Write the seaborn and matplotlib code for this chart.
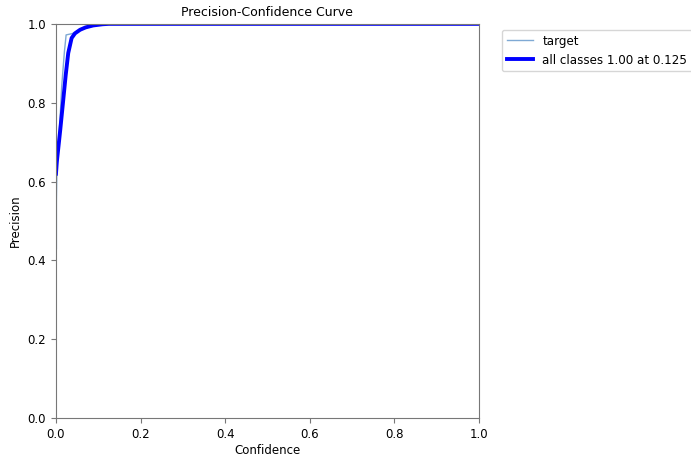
import matplotlib
matplotlib.use("Agg")
import matplotlib.pyplot as plt
import seaborn as sns

# Per-class precision vs confidence threshold
target_conf = [0.001, 0.001, 0.002, 0.005, 0.0095, 0.0135, 0.02, 0.024, 0.037, 0.045, 0.057, 0.07, 0.088, 0.11, 0.125, 0.3, 0.6, 1.0]
target_prec = [0.43, 0.55, 0.62, 0.68, 0.756, 0.841, 0.93, 0.972, 0.975, 0.978, 0.985, 0.991, 0.996, 0.999, 1.0, 1.0, 1.0, 1.0]

# Mean over all classes
all_conf = [0.0, 0.002, 0.005, 0.01, 0.017, 0.023, 0.029, 0.037, 0.045, 0.057, 0.07, 0.088, 0.11, 0.125, 0.3, 0.6, 1.0]
all_prec = [0.62, 0.65, 0.68, 0.73, 0.805, 0.87, 0.926, 0.964, 0.976, 0.985, 0.991, 0.996, 0.999, 1.0, 1.0, 1.0, 1.0]

series_labels = ["target", "all classes 1.00 at 0.125"]

plt.rcParams["font.family"] = ["DejaVu Sans"]
fig = plt.figure(figsize=(6.91, 4.59), dpi=100)
ax = fig.add_axes([0.081, 0.089, 0.612, 0.859])

sns.lineplot(x=target_conf, y=target_prec, ax=ax, color="#7fa9d4", linewidth=1,
             label=series_labels[0], sort=False, estimator=None)
sns.lineplot(x=all_conf, y=all_prec, ax=ax, color="blue", linewidth=2.8,
             label=series_labels[1], sort=False, estimator=None)

ax.set_xlim(0, 1)
ax.set_ylim(0, 1)
ax.set_xlabel("Confidence", fontsize=8.5, labelpad=2)
ax.set_ylabel("Precision", fontsize=8.5)
ax.set_title("Precision-Confidence Curve", fontsize=9)
ax.tick_params(labelsize=8.5, color="#777777")
for s in ax.spines.values():
    s.set_color("#777777")
ax.legend(bbox_to_anchor=(1.04, 1), loc="upper left", fontsize=8.6,
          edgecolor="#cccccc", handlelength=2.2)

fig.savefig("out.png", dpi=100)
